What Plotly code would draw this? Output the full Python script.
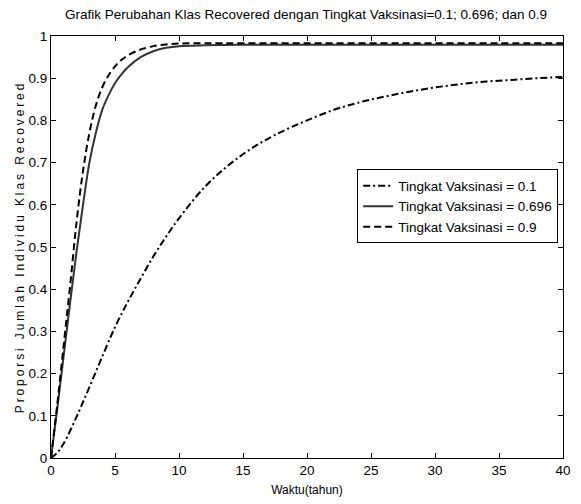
import plotly.graph_objects as go

# ---- data ----
t_v01 = [0, 0.5, 1, 2, 3, 4, 5, 6, 7, 8, 9, 10, 12, 14, 16, 18, 20, 22, 24, 26, 28, 30, 32, 34, 36, 38, 40]
r_v01 = [0, 0.013, 0.035, 0.098, 0.168, 0.24, 0.31, 0.37, 0.425, 0.478, 0.525, 0.568, 0.642, 0.697, 0.74,
         0.773, 0.80, 0.824, 0.842, 0.856, 0.868, 0.878, 0.886, 0.892, 0.896, 0.900, 0.903]

t_v0696 = [0, 0.5, 1, 1.5, 2, 2.5, 3, 3.5, 4, 4.5, 5, 5.5, 6, 7, 8, 9, 10, 12, 15, 20, 25, 30, 35, 40]
r_v0696 = [0, 0.12, 0.245, 0.37, 0.49, 0.60, 0.70, 0.77, 0.825, 0.86, 0.888, 0.909, 0.926, 0.95, 0.964,
           0.972, 0.976, 0.978, 0.979, 0.979, 0.979, 0.979, 0.979, 0.979]

t_v09 = [0, 0.5, 1, 1.5, 2, 2.5, 3, 3.5, 4, 4.5, 5, 5.5, 6, 7, 8, 9, 10, 12, 15, 20, 25, 30, 35, 40]
r_v09 = [0, 0.13, 0.27, 0.41, 0.56, 0.68, 0.77, 0.835, 0.878, 0.907, 0.928, 0.943, 0.954, 0.968, 0.976,
         0.98, 0.982, 0.983, 0.983, 0.983, 0.983, 0.983, 0.983, 0.983]

series_names = ["Tingkat Vaksinasi = 0.1", "Tingkat Vaksinasi = 0.696", "Tingkat Vaksinasi = 0.9"]
x_ticks = [0, 5, 10, 15, 20, 25, 30, 35, 40]
y_ticks = [0, 0.1, 0.2, 0.3, 0.4, 0.5, 0.6, 0.7, 0.8, 0.9, 1]

FONT = "Liberation Sans, Arial, sans-serif"

fig = go.Figure()
fig.add_trace(go.Scatter(x=t_v01, y=r_v01, mode="lines", name=series_names[0],
                         line=dict(color="black", width=2, dash="7px,3px,2px,3px", shape="spline")))
fig.add_trace(go.Scatter(x=t_v0696, y=r_v0696, mode="lines", name=series_names[1],
                         line=dict(color="#333333", width=2, dash="solid", shape="spline")))
fig.add_trace(go.Scatter(x=t_v09, y=r_v09, mode="lines", name=series_names[2],
                         line=dict(color="black", width=2, dash="7px,4px", shape="spline")))

axis_common = dict(
    showline=True, linecolor="black", linewidth=1, mirror="ticks",
    ticks="inside", ticklen=5, tickcolor="black", tickwidth=1,
    showgrid=False, zeroline=False, automargin=False,
    tickfont=dict(family=FONT, size=13.5, color="black"),
)

fig.update_layout(
    width=581, height=504,
    margin=dict(l=43, r=26, t=28, b=54),
    paper_bgcolor="white", plot_bgcolor="white",
    title=dict(text="Grafik Perubahan Klas Recovered dengan Tingkat Vaksinasi=0.1; 0.696; dan 0.9",
               x=0.498, xanchor="center", xref="paper", yref="container", y=0.988, yanchor="middle",
               font=dict(family=FONT, size=13.5, color="black")),
    xaxis=dict(range=[0, 40], tickvals=x_ticks, ticktext=[str(v) for v in x_ticks],
               title=dict(text="Waktu(tahun)", standoff=8,
                          font=dict(family=FONT, size=12, color="black")),
               **axis_common),
    yaxis=dict(range=[0, 1], tickvals=y_ticks, ticktext=[("%g" % v) for v in y_ticks],
               title=dict(text="Proporsi Jumlah Individu Klas Recovered", standoff=1,
                          font=dict(family=FONT, size=12, color="black")),
               **axis_common),
    legend=dict(x=0.598, y=0.684, xanchor="left", yanchor="top",
                bgcolor="white", bordercolor="black", borderwidth=1,
                font=dict(family=FONT, size=13.5, color="black"),
                itemwidth=30, tracegroupgap=0),
    showlegend=True,
)

post = """
document.querySelectorAll('.ytitle').forEach(function(e){e.style.letterSpacing='2.9px';});
"""
fig.write_html("out.html", post_script=post)
